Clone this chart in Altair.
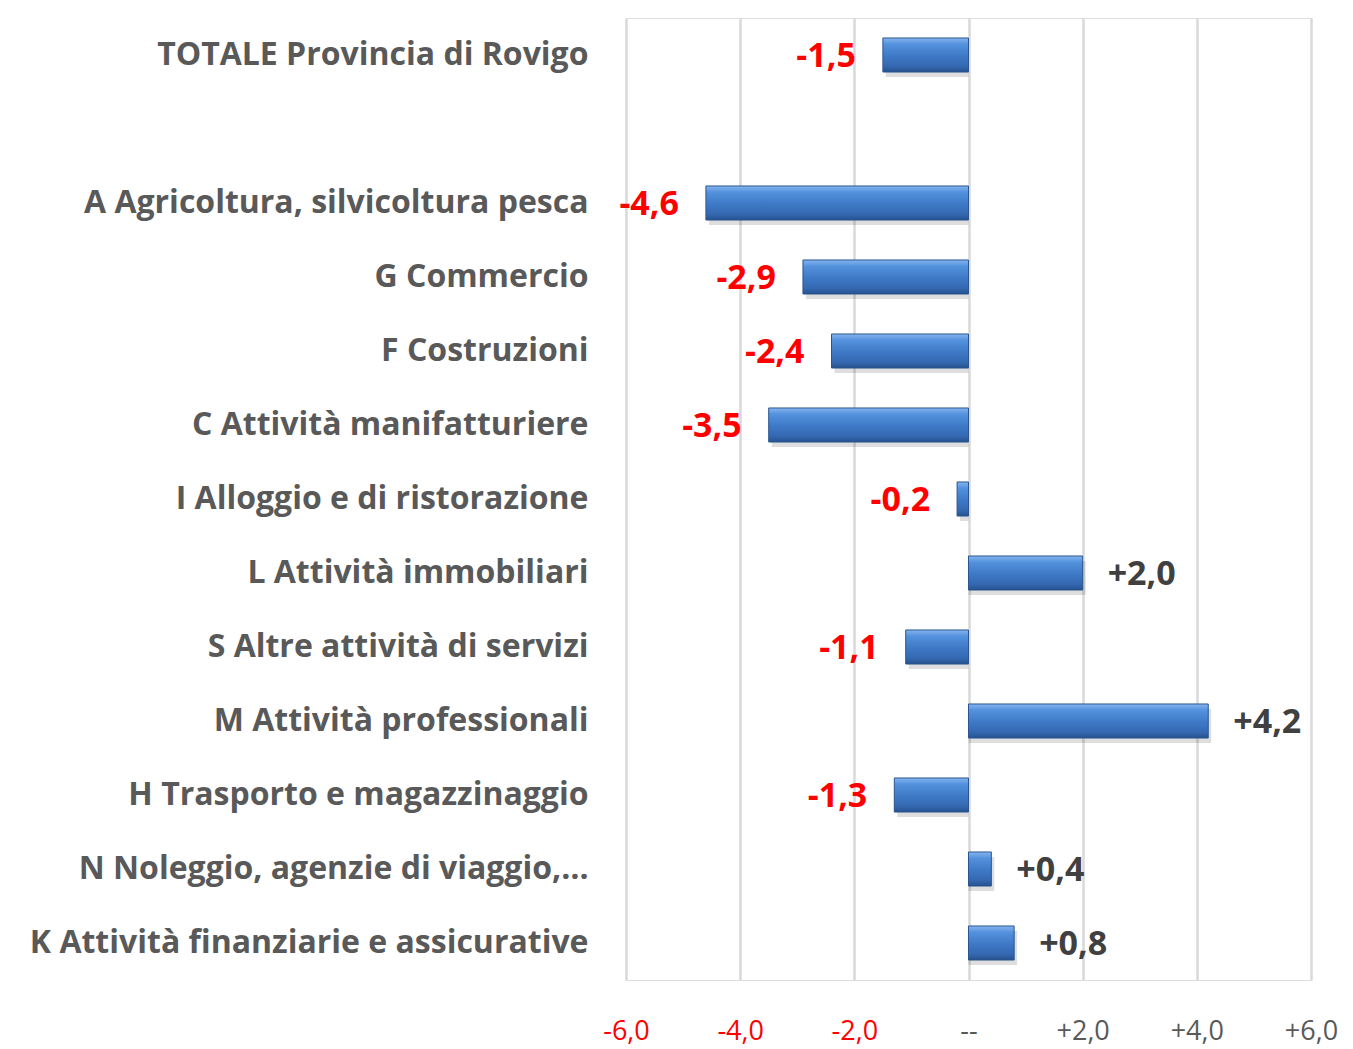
import altair as alt
import pandas as pd

categories = [
    "TOTALE Provincia di Rovigo",
    "A Agricoltura, silvicoltura pesca",
    "G Commercio",
    "F Costruzioni",
    "C Attività manifatturiere",
    "I Alloggio e di ristorazione",
    "L Attività immobiliari",
    "S Altre attività di servizi",
    "M Attività professionali",
    "H Trasporto e magazzinaggio",
    "N Noleggio, agenzie di viaggio,…",
    "K Attività finanziarie e assicurative",
]
values = [-1.5, -4.6, -2.9, -2.4, -3.5, -0.2, 2.0, -1.1, 4.2, -1.3, 0.4, 0.8]
x_ticks = [-6, -4, -2, 0, 2, 4, 6]

order = [categories[0], " "] + categories[1:]

df = pd.DataFrame({"cat": categories, "val": values})

FONT = "Open Sans"

y_enc = alt.Y("cat:N", scale=alt.Scale(domain=order, paddingInner=0.54, paddingOuter=0.27), title=None,
              axis=alt.Axis(labelFont=FONT, labelFontSize=32, labelFontWeight="bold", labelColor="#595959",
                            labelPadding=38, labelLimit=800, domain=False, ticks=False, grid=False))

x_scale = alt.Scale(domain=[-6, 6], nice=False)
x_enc = alt.X("val:Q", scale=x_scale, title=None,
              axis=alt.Axis(values=x_ticks, labelFont=FONT, labelFontSize=27, labelPadding=38,
                            labelFlush=False, labelOverlap=False,
                            labelColor=alt.ExprRef("datum.value < 0 ? '#ff0000' : '#595959'"),
                            labelExpr="datum.value == 0 ? '--' : (datum.value < 0 ? '-' : '+') + replace(format(abs(datum.value), '.1f'), '.', ',')",
                            domain=False, ticks=False, grid=True, gridColor="#d9d9d9", gridWidth=2.5))

grad = alt.Gradient(
    gradient="linear", x1=0, x2=0, y1=0, y2=1,
    stops=[
        alt.GradientStop(color="#86b5ef", offset=0),
        alt.GradientStop(color="#5592dd", offset=0.18),
        alt.GradientStop(color="#3f7bc8", offset=0.5),
        alt.GradientStop(color="#3569b2", offset=0.82),
        alt.GradientStop(color="#25528e", offset=1),
    ],
)

base = alt.Chart(df)

shadow = base.mark_bar(color="#000000", opacity=0.13, xOffset=3, yOffset=5).encode(
    x=x_enc, x2=alt.datum(0), y=y_enc)

bars = base.mark_bar(color=grad, stroke="#2a5590", strokeWidth=1).encode(
    x=x_enc, x2=alt.datum(0), y=y_enc)

lbl = base.transform_calculate(
    lbl="(datum.val < 0 ? '-' : '+') + replace(format(abs(datum.val), '.1f'), '.', ',')"
)

neg = lbl.transform_filter("datum.val < 0").mark_text(
    align="right", baseline="middle", dx=-27, dy=2, font=FONT, fontSize=34, fontWeight="bold", color="#ff0000"
).encode(x=alt.X("val:Q", scale=x_scale), y=alt.Y("cat:N", scale=alt.Scale(domain=order)), text="lbl:N")

pos = lbl.transform_filter("datum.val >= 0").mark_text(
    align="left", baseline="middle", dx=25, dy=2, font=FONT, fontSize=34, fontWeight="bold", color="#404040"
).encode(x=alt.X("val:Q", scale=x_scale), y=alt.Y("cat:N", scale=alt.Scale(domain=order)), text="lbl:N")

chart = alt.layer(shadow, bars, neg, pos).properties(
    width=685, height=962, padding={"left": 21, "top": 10, "right": 5, "bottom": 5}
).configure_view(stroke=None).configure(background="white")

chart.save("out.html", embed_options={"renderer": "svg", "actions": False})
